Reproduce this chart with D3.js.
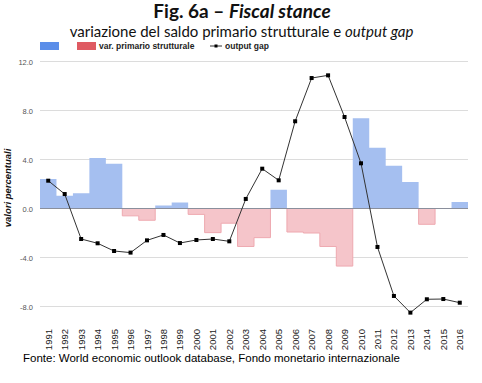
<!DOCTYPE html>
<html><head><meta charset="utf-8">
<script src="https://cdn.jsdelivr.net/npm/d3@7"></script>
<style>body{margin:0;background:#fff}svg{display:block}</style>
</head><body>
<svg id="c" width="482" height="383"></svg>
<script>
const years = ["1991","1992","1993","1994","1995","1996","1997","1998","1999","2000","2001","2002","2003","2004","2005","2006","2007","2008","2009","2010","2011","2012","2013","2014","2015","2016"];
const positiveBalance = [2.4,1.05,1.24,4.12,3.66,0,0,0.24,0.5,0,0,0,0,0,1.54,0,0,0,0,7.36,4.96,3.5,2.16,0,0,0.53];
const negativeBalance = [0,0,0,0,0,-0.6,-0.96,0,0,-0.48,-1.97,-1.2,-3.1,-2.38,0,-1.92,-2.0,-3.1,-4.7,0,0,0,0,-1.29,0,0];
const outputGap = [2.27,1.18,-2.49,-2.84,-3.47,-3.6,-2.6,-2.16,-2.82,-2.57,-2.49,-2.68,0.78,3.25,2.3,7.12,10.65,10.87,7.47,3.69,-3.14,-7.14,-8.5,-7.41,-7.39,-7.69];
const yTicks = [12,8,4,0,-4,-8];
const yTickLabels = ["12.0","8.0","4.0","0.0","-4.0","-8.0"];

const svg = d3.select("#c");
const pL = 40, pR = 468, pT = 61.5, pB = 306.5;
const x = d3.scaleBand().domain(years).range([pL, pR]).padding(0);
const y = d3.scaleLinear().domain([-8, 12]).range([pB, pT]);
const bw = x.bandwidth();

// gridlines
svg.append("g").selectAll("line").data(yTicks.filter(t => t !== 0)).join("line")
  .attr("x1", pL).attr("x2", pR).attr("y1", d => y(d)).attr("y2", d => y(d))
  .attr("stroke", "#dcdcdc").attr("stroke-width", 1);

// y tick labels
svg.append("g").selectAll("text").data(yTicks).join("text")
  .attr("x", 33).attr("y", d => y(d) + 3)
  .attr("text-anchor", "end").attr("font-family", "Liberation Sans, Arial, sans-serif")
  .attr("font-size", 7.5).attr("fill", "#555")
  .text((d, i) => yTickLabels[i]);

function stepPts(vals) {
  const pts = [];
  vals.forEach((v, i) => { pts.push([x(years[i]), v]); pts.push([x(years[i]) + bw, v]); });
  return pts;
}
const area = d3.area().x(d => d[0]).y0(y(0)).y1(d => y(d[1]));
const line = d3.line().x(d => d[0]).y(d => y(d[1]));

svg.append("path").attr("d", area(stepPts(negativeBalance))).attr("fill", "#f5c5ca");
svg.append("path").attr("d", line(stepPts(negativeBalance))).attr("fill", "none").attr("stroke", "#eea9b0").attr("stroke-width", 1);
svg.append("path").attr("d", area(stepPts(positiveBalance))).attr("fill", "#a5bff0");

// zero line
svg.append("line").attr("x1", pL).attr("x2", pR).attr("y1", y(0)).attr("y2", y(0))
  .attr("stroke", "#8a8f9c").attr("stroke-width", 1);

// output gap line
const lg = d3.line().x((d, i) => x(years[i]) + bw / 2).y(d => y(d));
svg.append("path").attr("d", lg(outputGap)).attr("fill", "none").attr("stroke", "#333").attr("stroke-width", 1);
svg.append("g").selectAll("rect").data(outputGap).join("rect")
  .attr("x", (d, i) => x(years[i]) + bw / 2 - 2).attr("y", d => y(d) - 2)
  .attr("width", 4).attr("height", 4).attr("fill", "#000");

// x labels
svg.append("g").selectAll("text").data(years).join("text")
  .attr("transform", d => `translate(${x(d) + bw / 2 + 3.5},329) rotate(-90)`)
  .attr("text-anchor", "end").attr("font-family", "Liberation Sans, Arial, sans-serif")
  .attr("font-size", 9.5).attr("fill", "#222").text(d => d);

// y axis title
svg.append("text").attr("transform", "translate(11,188) rotate(-90)")
  .attr("text-anchor", "middle").attr("font-family", "Liberation Sans, Arial, sans-serif")
  .attr("font-size", 9.5).attr("font-weight", "bold").attr("font-style", "italic").attr("fill", "#111")
  .text("valori percentuali");

// title
const t = svg.append("text").attr("x", 242).attr("y", 18).attr("text-anchor", "middle")
  .attr("font-family", "Lato, Open Sans, sans-serif").attr("font-size", 19).attr("font-weight", "bold").attr("fill", "#111");
t.append("tspan").text("Fig. 6a – ");
t.append("tspan").attr("font-style", "italic").text("Fiscal stance");

const st = svg.append("text").attr("x", 241.5).attr("y", 37).attr("text-anchor", "middle")
  .attr("font-family", "Lato, Open Sans, sans-serif").attr("font-size", 15).attr("fill", "#111");
st.append("tspan").text("variazione del saldo primario strutturale e ");
st.append("tspan").attr("font-style", "italic").text("output gap");

// legend
const lf = "Liberation Sans, Arial, sans-serif";
svg.append("rect").attr("x", 40).attr("y", 42).attr("width", 19).attr("height", 8).attr("fill", "#5b8ee9");
svg.append("rect").attr("x", 77).attr("y", 42).attr("width", 19).attr("height", 8).attr("fill", "#df5a62");
svg.append("text").attr("x", 99).attr("y", 49).attr("font-family", lf).attr("font-size", 8.5)
  .attr("font-weight", "bold").attr("fill", "#222").text("var. primario strutturale");
svg.append("line").attr("x1", 210).attr("x2", 222).attr("y1", 46).attr("y2", 46).attr("stroke", "#333");
svg.append("rect").attr("x", 214.5).attr("y", 44.5).attr("width", 3).attr("height", 3).attr("fill", "#000");
svg.append("text").attr("x", 225).attr("y", 49).attr("font-family", lf).attr("font-size", 8.5)
  .attr("font-weight", "bold").attr("fill", "#222").text("output gap");

// source
svg.append("text").attr("x", 23).attr("y", 362).attr("font-family", lf).attr("font-size", 11.5)
  .attr("fill", "#000").text("Fonte: World economic outlook database, Fondo monetario internazionale");
</script>
</body></html>
